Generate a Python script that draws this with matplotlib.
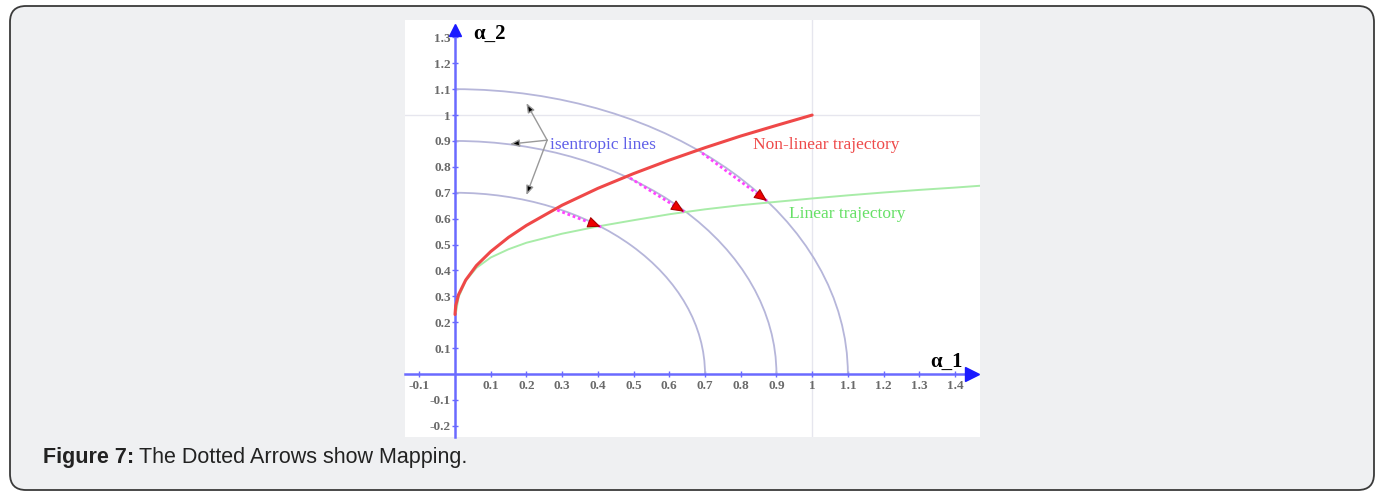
import matplotlib.pyplot as plt
import numpy as np
from matplotlib.patches import Arc, FancyBboxPatch
from matplotlib.transforms import IdentityTransform

# isentropic circles (radii)
radii = [0.7, 0.9, 1.1]

# non-linear trajectory (red)
red_x = [0.0, 0.002, 0.01, 0.03, 0.06, 0.1, 0.15, 0.2, 0.3, 0.4, 0.5, 0.6, 0.7, 0.8, 0.9, 1.0]
red_y = [0.23, 0.264, 0.307, 0.363, 0.419, 0.473, 0.528, 0.574, 0.652, 0.717, 0.774, 0.826, 0.874, 0.919, 0.960, 1.0]

# linear trajectory (green)
green_x = [0.003, 0.01, 0.03, 0.06, 0.1, 0.15, 0.2, 0.3, 0.4, 0.5, 0.6, 0.7, 0.8, 0.9, 1.0, 1.1, 1.2, 1.3, 1.4, 1.48]
green_y = [0.24, 0.297, 0.36, 0.41, 0.45, 0.482, 0.507, 0.542, 0.57, 0.594, 0.617, 0.636, 0.652, 0.665, 0.678, 0.69, 0.701, 0.711, 0.72, 0.728]

# mapping arrows: start on red, end on green (same circle)
map_start = [(0.286, 0.633), (0.49, 0.757), (0.692, 0.853)]
map_end = [(0.415, 0.565), (0.648, 0.621), (0.88, 0.662)]

# "isentropic lines" pointer arrows
iso_src = (0.258, 0.903)
iso_targets = [(0.2, 1.046), (0.154, 0.888), (0.2, 0.691)]

x_ticks = [-0.1, 0.1, 0.2, 0.3, 0.4, 0.5, 0.6, 0.7, 0.8, 0.9, 1.0, 1.1, 1.2, 1.3, 1.4]
y_ticks = [-0.2, -0.1, 0.1, 0.2, 0.3, 0.4, 0.5, 0.6, 0.7, 0.8, 0.9, 1.0, 1.1, 1.2, 1.3]


def tick_label(v):
    return "1" if abs(v - 1.0) < 1e-9 else f"{v:.1f}"


fig = plt.figure(figsize=(13.8, 4.92), dpi=100)
fig.patch.set_facecolor("white")

box = FancyBboxPatch((10, 2), 1364, 484, boxstyle="round,pad=0,rounding_size=16",
                     transform=IdentityTransform(), facecolor="#eff0f2",
                     edgecolor="#3a3a3a", linewidth=1.3, zorder=-10)
fig.patches.append(box)

ax = fig.add_axes([405 / 1380, 1 - 437 / 492, 575 / 1380, 417 / 492])
ax.set_zorder(1)
ax.set_facecolor("white")
ax.set_xlim(-0.14, 1.47)
ax.set_ylim(-0.243, 1.367)
x_lo, x_hi = ax.get_xlim()
y_lo, y_hi = ax.get_ylim()

# faint grid at 1
ax.axvline(1.0, color="#e6e6ee", lw=1.0, zorder=1)
ax.axhline(1.0, color="#e6e6ee", lw=1.0, zorder=1)

# axes through origin
for side in ["top", "right"]:
    ax.spines[side].set_visible(False)
ax.spines["left"].set_position("zero")
ax.spines["bottom"].set_position("zero")
ax.spines["left"].set_bounds(y_lo, y_hi - 0.04)
ax.spines["bottom"].set_bounds(x_lo, x_hi - 0.025)
axis_blue = "#6a6aff"
for side in ["left", "bottom"]:
    ax.spines[side].set_color(axis_blue)
    ax.spines[side].set_linewidth(1.8)

ax.set_xticks(x_ticks, [tick_label(v) for v in x_ticks])
ax.set_yticks(y_ticks, [tick_label(v) for v in y_ticks])
ax.tick_params(axis="both", direction="inout", length=5, width=1.0, color=axis_blue,
               labelsize=9.5, labelcolor="#6a6a6a")
ax.tick_params(axis="x", pad=1.5)
ax.tick_params(axis="y", pad=0.5)
for lab in ax.get_xticklabels() + ax.get_yticklabels():
    lab.set_fontfamily("Liberation Serif")
    lab.set_fontweight("bold")

# arrowheads on axes
ax.plot([x_hi - 0.022], [0], marker=">", ms=10, color="#1a1aff", clip_on=False, zorder=5)
ax.plot([0], [y_hi - 0.038], marker="^", ms=9, color="#1a1aff", clip_on=False, zorder=5)

# isentropic arcs
for r in radii:
    ax.add_patch(Arc((0, 0), 2 * r, 2 * r, theta1=0, theta2=90,
                     color="#b6b6da", lw=1.3, zorder=2))

ax.plot(green_x, green_y, color="#a8eca8", lw=1.4, zorder=3)
ax.plot(red_x, red_y, color="#ef4848", lw=2.2, zorder=4, solid_capstyle="round")

# dotted mapping arrows
for (x0, y0), (x1, y1) in zip(map_start, map_end):
    ax.plot([x0, x1], [y0, y1], color="#ff44ff", lw=2.0, ls=(0, (1, 1)), zorder=5)
    dx, dy = x1 - x0, y1 - y0
    n = np.hypot(dx, dy)
    back = (x1 - dx / n * 0.035, y1 - dy / n * 0.035)
    ax.annotate("", xy=(x1, y1), xytext=back,
                arrowprops=dict(arrowstyle="-|>,head_length=0.8,head_width=0.35",
                                fc="#ee0000", ec="#aa0000", lw=0.8), zorder=6)

# isentropic pointer arrows
for tx, ty in iso_targets:
    ax.annotate("", xy=(tx, ty), xytext=iso_src,
                arrowprops=dict(arrowstyle="-|>,head_length=0.55,head_width=0.22",
                                fc="black", ec="#999999", lw=1.0,
                                shrinkA=0, shrinkB=0), zorder=6)

serif = "Liberation Serif"
ax.text(0.266, 0.884, "isentropic lines", color="#6060e8", fontsize=12.5,
        family=serif, va="center", ha="left")
ax.text(0.835, 0.884, "Non-linear trajectory", color="#ee4a4a", fontsize=12.5,
        family=serif, va="center", ha="left")
ax.text(0.936, 0.618, "Linear trajectory", color="#66e066", fontsize=12.5,
        family=serif, va="center", ha="left")
ax.text(1.33, 0.027, "α_1", color="black", fontsize=15, family=serif,
        fontweight="bold", va="baseline", ha="left")
ax.text(0.05, 1.293, "α_2", color="black", fontsize=15, family=serif,
        fontweight="bold", va="baseline", ha="left")

# caption
cap_y = 1 - 458 / 492
t1 = fig.text(43 / 1380, cap_y, "Figure 7:", fontsize=15.5, fontweight="bold",
              family="Liberation Sans", color="#222222", va="center")
fig.canvas.draw()
bb = t1.get_window_extent()
fig.text((bb.x1 + 5) / 1380, cap_y, "The Dotted Arrows show Mapping.", fontsize=15.5,
         family="Liberation Sans", color="#222222", va="center")

fig.savefig("out.png", dpi=100, facecolor=fig.get_facecolor())
